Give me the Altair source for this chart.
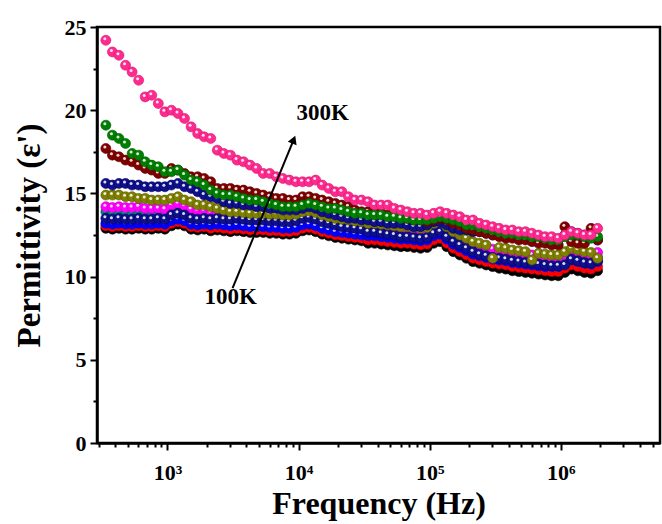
import altair as alt
import pandas as pd

# Frequencies (Hz)
freq = [338.8, 380.2, 426.6, 478.6, 537.0, 602.6, 676.1, 758.6, 851.1, 955.0,
        1071.5, 1202.3, 1349.0, 1513.6, 1698.2, 1905.5, 2138.0, 2398.8, 2691.5, 3020.0,
        3388.4, 3801.9, 4265.8, 4786.3, 5370.3, 6025.6, 6760.8, 7585.8, 8511.4, 9549.9,
        10715, 12023, 13490, 15136, 16982, 19055, 21380, 23988, 26915, 30200,
        33884, 38019, 42658, 47863, 53703, 60256, 67608, 75858, 85114, 95499,
        107150, 120230, 134900, 151360, 169820, 190550, 213800, 239880, 269150, 302000,
        338840, 380190, 426580, 478630, 537030, 602560, 676080, 758580, 851140, 954990,
        1071500, 1202300, 1349000, 1513600, 1698200, 1905500]

eps_100K = [12.9, 12.85, 12.9, 12.85, 12.85, 12.9, 12.85, 12.85, 12.9, 12.85,
            13.05, 13.15, 13.05, 12.85, 12.8, 12.85, 12.75, 12.8, 12.75, 12.7,
            12.75, 12.7, 12.65, 12.65, 12.65, 12.6, 12.6, 12.55, 12.55, 12.6,
            12.75, 12.8, 12.7, 12.55, 12.45, 12.35, 12.3, 12.25, 12.2, 12.15,
            12.0, 12.0, 11.95, 11.9, 11.85, 11.8, 11.8, 11.75, 11.7, 11.75,
            12.0, 12.1, 11.8, 11.5, 11.3, 11.1, 10.9, 10.8, 10.7, 10.6,
            10.5, 10.45, 10.35, 10.3, 10.25, 10.2, 10.15, 10.1, 10.05, 10.05,
            10.25, 10.45, 10.35, 10.25, 10.2, 10.35]
eps_120K = [13.05, 13.0, 13.05, 13.0, 13.0, 13.05, 13.0, 13.0, 13.05, 13.0,
            13.2, 13.3, 13.2, 13.0, 12.95, 13.0, 12.9, 12.95, 12.9, 12.85,
            12.9, 12.85, 12.8, 12.8, 12.8, 12.75, 12.75, 12.7, 12.7, 12.75,
            12.9, 12.95, 12.85, 12.7, 12.6, 12.5, 12.45, 12.4, 12.35, 12.3,
            12.2, 12.2, 12.15, 12.1, 12.05, 12.0, 12.0, 11.95, 11.9, 11.95,
            12.2, 12.3, 12.0, 11.7, 11.5, 11.3, 11.1, 11.0, 10.9, 10.8,
            10.75, 10.7, 10.6, 10.55, 10.5, 10.45, 10.4, 10.35, 10.3, 10.3,
            10.5, 10.7, 10.6, 10.5, 10.45, 10.6]
eps_140K = [13.2, 13.15, 13.2, 13.15, 13.15, 13.2, 13.15, 13.15, 13.2, 13.15,
            13.35, 13.45, 13.35, 13.15, 13.1, 13.15, 13.1, 13.15, 13.1, 13.05,
            13.1, 13.05, 13.0, 13.0, 13.0, 12.95, 12.95, 12.9, 12.9, 12.95,
            13.1, 13.15, 13.05, 12.9, 12.8, 12.7, 12.65, 12.6, 12.55, 12.5,
            12.45, 12.45, 12.4, 12.35, 12.3, 12.25, 12.25, 12.2, 12.15, 12.2,
            12.45, 12.55, 12.25, 11.95, 11.75, 11.55, 11.35, 11.25, 11.15, 11.05,
            11.0, 10.95, 10.85, 10.8, 10.75, 10.7, 10.65, 10.6, 10.6, 10.6,
            10.8, 11.0, 10.9, 10.8, 10.75, 10.9]
eps_160K = [13.5, 13.45, 13.5, 13.45, 13.45, 13.5, 13.45, 13.45, 13.5, 13.45,
            13.7, 13.8, 13.7, 13.5, 13.45, 13.5, 13.45, 13.5, 13.45, 13.45,
            13.5, 13.45, 13.4, 13.4, 13.4, 13.35, 13.35, 13.3, 13.3, 13.35,
            13.5, 13.55, 13.45, 13.3, 13.2, 13.1, 13.0, 12.95, 12.9, 12.85,
            12.7, 12.7, 12.6, 12.55, 12.5, 12.4, 12.4, 12.35, 12.3, 12.35,
            12.6, 12.7, 12.4, 12.1, 11.9, 11.7, 11.5, 11.35, 11.25, 11.15,
            11.1, 11.05, 10.95, 10.9, 10.85, 10.8, 10.75, 10.7, 10.65, 10.65,
            10.7, 11.05, 10.95, 10.85, 10.8, 10.95]
eps_180K = [13.9, 13.85, 13.9, 13.85, 13.85, 13.9, 13.85, 13.85, 13.9, 13.85,
            14.05, 14.15, 14.05, 13.85, 13.75, 13.8, 13.7, 13.7, 13.65, 13.6,
            13.65, 13.6, 13.55, 13.55, 13.55, 13.5, 13.5, 13.45, 13.45, 13.5,
            13.65, 13.7, 13.6, 13.45, 13.35, 13.25, 13.2, 13.1, 13.05, 13.0,
            12.9, 12.9, 12.8, 12.75, 12.7, 12.65, 12.6, 12.55, 12.5, 12.55,
            12.8, 12.9, 12.6, 12.3, 12.1, 11.9, 11.7, 11.6, 11.5, 11.4,
            11.3, 11.25, 11.15, 11.1, 11.05, 11.0, 10.95, 10.9, 10.85, 10.85,
            11.05, 11.25, 11.15, 11.05, 11.0, 11.15]
eps_200K = [14.2, 14.15, 14.2, 14.15, 14.15, 14.2, 14.1, 14.1, 14.1, 14.05,
            14.3, 14.4, 14.25, 14.05, 13.95, 13.95, 13.85, 13.85, 13.8, 13.75,
            13.8, 13.75, 13.7, 13.7, 13.7, 13.65, 13.65, 13.6, 13.6, 13.65,
            13.8, 13.85, 13.75, 13.6, 13.5, 13.4, 13.35, 13.3, 13.25, 13.2,
            13.1, 13.1, 13.05, 13.0, 12.9, 12.85, 12.85, 12.8, 12.75, 12.8,
            13.05, 13.15, 12.85, 12.55, 12.35, 12.15, 11.95, 11.85, 11.75, 11.65,
            11.6, 11.55, 11.45, 11.4, 11.35, 11.3, 11.25, 11.2, 11.15, 11.15,
            11.35, 11.55, 11.45, 11.35, 11.3, 11.45]
eps_220K = [14.9, 14.9, 14.9, 14.8, 14.8, 14.7, 14.7, 14.6, 14.6, 14.6,
            14.7, 14.8, 14.6, 14.5, 14.3, 14.3, 14.2, 14.1, 14.0, 13.9,
            13.9, 13.85, 13.8, 13.8, 13.8, 13.75, 13.75, 13.7, 13.7, 13.75,
            13.9, 13.95, 13.85, 13.7, 13.6, 13.5, 13.45, 13.4, 13.35, 13.3,
            13.2, 13.2, 13.15, 13.1, 13.05, 13.0, 13.0, 12.95, 12.9, 12.95,
            13.2, 13.3, 13.0, 12.7, 12.5, 12.3, 12.1, 12.0, 11.9, 11.1,
            11.75, 11.7, 11.6, 11.55, 11.5, 11.0, 11.4, 11.35, 11.3, 11.3,
            11.5, 11.7, 11.6, 11.5, 11.45, 11.1]
eps_240K = [15.6, 15.5, 15.6, 15.6, 15.5, 15.5, 15.4, 15.4, 15.4, 15.4,
            15.5, 15.6, 15.4, 15.3, 15.1, 14.9, 14.8, 14.7, 14.5, 14.4,
            14.4, 14.3, 14.3, 14.2, 14.2, 14.1, 14.1, 14.0, 14.0, 14.0,
            14.1, 14.2, 14.1, 13.9, 13.8, 13.7, 13.6, 13.5, 13.5, 13.4,
            13.4, 13.3, 13.3, 13.2, 13.2, 13.2, 13.1, 13.0, 13.0, 13.1,
            13.3, 13.3, 13.1, 12.9, 12.8, 12.8, 12.7, 12.7, 12.6, 12.5,
            12.5, 12.4, 12.4, 12.3, 12.3, 12.3, 12.2, 12.2, 12.2, 12.2,
            12.5, 12.7, 12.6, 12.5, 12.4, 12.2]
eps_260K = [17.7, 17.3, 17.2, 17.0, 16.9, 16.7, 16.5, 16.4, 16.2, 16.2,
            16.5, 16.4, 16.2, 16.0, 16.0, 15.9, 15.7, 15.3, 15.3, 15.3,
            15.2, 15.2, 15.1, 15.0, 14.9, 14.8, 14.7, 14.7, 14.6, 14.6,
            14.8, 14.8, 14.7, 14.6, 14.5, 14.4, 14.3, 14.2, 14.0, 13.9,
            13.9, 13.8, 13.8, 13.7, 13.7, 13.6, 13.5, 13.4, 13.4, 13.3,
            13.4, 13.5, 13.4, 13.2, 13.1, 12.9, 12.8, 12.7, 12.6, 12.5,
            12.4, 12.3, 12.3, 12.2, 12.2, 12.1, 12.0, 12.0, 11.9, 11.9,
            13.0, 12.1, 12.0, 12.0, 12.9, 12.2]
eps_280K = [19.1, 18.5, 18.3, 18.0, 17.4, 17.3, 16.9, 16.7, 16.6, 16.3,
            16.3, 16.4, 16.1, 15.8, 15.7, 15.5, 15.2, 15.0, 14.9, 14.9,
            14.8, 14.7, 14.6, 14.6, 14.5, 14.4, 14.3, 14.2, 14.2, 14.2,
            14.3, 14.4, 14.3, 14.2, 14.1, 14.1, 14.0, 13.9, 13.8, 13.8,
            13.7, 13.7, 13.7, 13.6, 13.6, 13.5, 13.5, 13.4, 13.4, 13.4,
            13.5, 13.6, 13.5, 13.4, 13.3, 13.1, 13.1, 13.0, 12.9, 12.8,
            12.7, 12.6, 12.6, 12.5, 12.5, 12.4, 12.4, 12.3, 12.2, 12.2,
            12.4, 12.5, 12.5, 12.4, 12.3, 12.4]
eps_300K = [24.2, 23.5, 23.3, 22.7, 22.3, 21.8, 20.8, 20.9, 20.4, 19.9,
            20.0, 19.8, 19.5, 19.0, 18.6, 18.4, 18.3, 17.6, 17.4, 17.3,
            17.0, 16.9, 16.7, 16.5, 16.2, 16.2, 16.0, 15.9, 15.8, 15.7,
            15.7, 15.7, 15.8, 15.5, 15.3, 15.1, 15.1, 14.8, 14.6, 14.6,
            14.5, 14.3, 14.3, 14.3, 14.1, 14.0, 13.9, 13.8, 13.8, 13.7,
            13.8, 13.9, 13.8, 13.7, 13.6, 13.4, 13.4, 13.2, 13.1, 13.0,
            12.9, 12.8, 12.8, 12.7, 12.7, 12.6, 12.5, 12.4, 12.4, 12.3,
            12.5, 12.7, 12.6, 12.5, 12.5, 12.9]

# drawing order (later drawn on top)
series = [
    ("100K", eps_100K, "#000000", "#000000"),
    ("120K", eps_120K, "#FF0000", "#C00000"),
    ("140K", eps_140K, "#0000FF", "#0000B0"),
    ("180K", eps_180K, "#008080", "#005858"),
    ("200K", eps_200K, "#FF00FF", "#C000C0"),
    ("160K", eps_160K, "#10108C", "#00005A"),
    ("220K", eps_220K, "#808000", "#585800"),
    ("240K", eps_240K, "#10108C", "#00005A"),
    ("260K", eps_260K, "#800000", "#580000"),
    ("280K", eps_280K, "#008000", "#005800"),
    ("300K", eps_300K, "#FF2A90", "#D01868"),
]

rows = []
for name, vals, _, _ in series:
    for f, v in zip(freq, vals):
        rows.append({"f": f, "eps": v, "s": name})
df = pd.DataFrame(rows)

# annotation: arrow and labels
arrow_f = [3135, 9176]
arrow_eps = [9.31, 18.23]
head_f = [9176]
head_eps = [18.23]
label_text = ["300K", "100K"]
label_f = [15240, 3027]
label_eps = [19.83, 8.77]

x_ticks = [300, 400, 500, 600, 700, 800, 900, 1000,
           2000, 3000, 4000, 5000, 6000, 7000, 8000, 9000, 10000,
           20000, 30000, 40000, 50000, 60000, 70000, 80000, 90000, 100000,
           200000, 300000, 400000, 500000, 600000, 700000, 800000, 900000, 1000000,
           2000000, 3000000, 4000000, 5000000]
y_ticks = [0, 2.5, 5, 7.5, 10, 12.5, 15, 17.5, 20, 22.5, 25]

FONT = "Liberation Serif"

x_enc = alt.X(
    "f:Q",
    scale=alt.Scale(type="log", domain=[290, 5.7e6], nice=False),
    axis=alt.Axis(
        values=x_ticks,
        labelExpr="datum.value == 1000 ? '10³' : datum.value == 10000 ? '10⁴' : datum.value == 100000 ? '10⁵' : datum.value == 1000000 ? '10⁶' : ''",
        tickSize={"condition": {"test": "indexof([1000,10000,100000,1000000], datum.value) >= 0", "value": 7}, "value": 4},
        labelPadding=12,
        title="Frequency (Hz)",
        titlePadding=5,
        titleFontSize=32,
    ),
)
y_enc = alt.Y(
    "eps:Q",
    scale=alt.Scale(domain=[0, 25], nice=False, zero=False),
    axis=alt.Axis(
        values=y_ticks,
        labelExpr="datum.value % 5 == 0 ? datum.label : ''",
        tickSize={"condition": {"test": "datum.value % 5 == 0", "value": 7}, "value": 4},
        labelPadding=4,
        title="Permittivity (ε')",
        titlePadding=18,
    ),
)

layers = []
for name, _, col, edge in series:
    base = alt.Chart(df).transform_filter(alt.datum.s == name)
    layers.append(base.mark_circle(size=100, color=col, opacity=1, stroke=edge, strokeWidth=0.6))
    layers.append(base.mark_circle(size=9, color="white", opacity=0.85, xOffset=-1, yOffset=-1.5))

arrow_df = pd.DataFrame({"f": arrow_f, "eps": arrow_eps})
head_df = pd.DataFrame({"f": head_f, "eps": head_eps})
lab_df = pd.DataFrame({"f": label_f, "eps": label_eps, "t": label_text})

layers.append(alt.Chart(arrow_df).mark_line(color="black", strokeWidth=2))
layers.append(alt.Chart(head_df).mark_point(shape="triangle-up", size=90, filled=True, color="black", opacity=1, angle=22))
layers.append(alt.Chart(lab_df).mark_text(font=FONT, fontWeight="bold", fontSize=23, color="black").encode(text="t:N"))

chart = alt.layer(*layers).encode(x=x_enc, y=y_enc).properties(
    width=563, height=416,
    padding={"left": 97, "top": 27, "right": 2, "bottom": 81},
    autosize=alt.AutoSizeParams(type="none"),
    background="white",
).configure_view(
    stroke="black", strokeWidth=2.5
).configure_axis(
    grid=False,
    domainColor="black", domainWidth=2.5,
    tickColor="black", tickWidth=2,
    labelFont=FONT, labelFontWeight="bold", labelFontSize=22, labelColor="black",
    titleFont=FONT, titleFontWeight="bold", titleFontSize=33, titleColor="black",
)

chart.save("out.html", embed_options={"renderer": "svg", "actions": False})
